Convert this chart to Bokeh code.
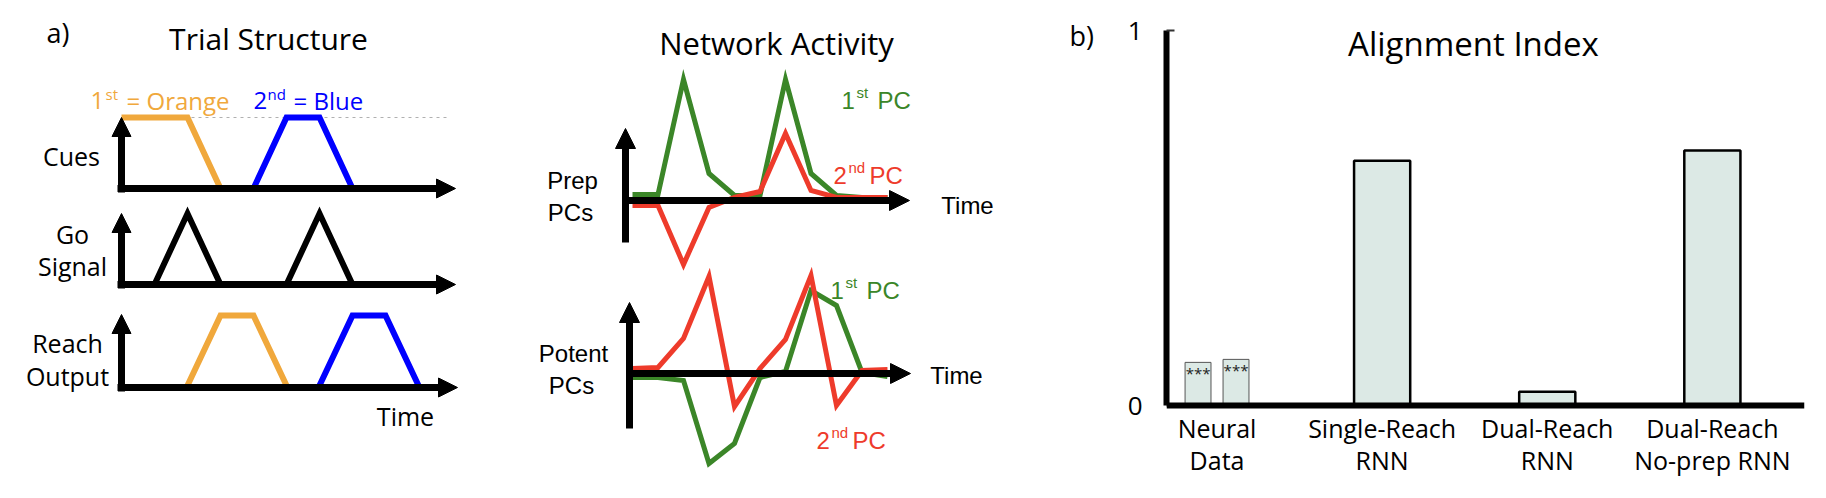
from bokeh.plotting import figure
from bokeh.models import Range1d, Arrow, NormalHead, FixedTicker, Label, Span
from bokeh.layouts import row
from bokeh.core.properties import value
from bokeh.embed import file_html
from bokeh.resources import INLINE

# ---------------- data ----------------
# a) Trial structure: time in task steps, amplitude normalised to 1
cue1_t = [0, 2, 3]
cue1_v = [1, 1, 0]
cue2_t = [4, 5, 6, 7]
cue2_v = [0, 1, 1, 0]
go1_t = [1, 2, 3]
go1_v = [0, 1, 0]
go2_t = [5, 6, 7]
go2_v = [0, 1, 0]
reach1_t = [2, 3, 4, 5]
reach1_v = [0, 1, 1, 0]
reach2_t = [6, 7, 8, 9]
reach2_v = [0, 1, 1, 0]

# a) Network activity (arbitrary units)
pc_time = [0, 1, 2, 3, 4, 5, 6, 7, 8, 9, 10]
prep_pc1 = [0.06, 0.06, 1.21, 0.27, 0.05, 0.05, 1.21, 0.27, 0.05, 0.03, 0.03]
prep_pc2 = [-0.05, -0.05, -0.64, -0.07, 0.03, 0.09, 0.67, 0.10, 0.03, 0.03, 0.03]
potent_pc1 = [-0.04, -0.04, -0.07, -0.90, -0.70, -0.04, 0.02, 0.83, 0.68, 0.01, -0.03]
potent_pc2 = [0.05, 0.06, 0.35, 0.97, -0.33, 0.05, 0.34, 0.98, -0.32, 0.03, 0.04]

# b) Alignment index
categories = ["Neural\nData", "Single-Reach\nRNN", "Dual-Reach\nRNN", "Dual-Reach\nNo-prep RNN"]
neural_values = [0.115, 0.123]
model_values = [0.653, 0.037, 0.68]
y_ticks = [0, 1]
y_tick_labels = ["0", "1"]

# ---------------- style ----------------
ORANGE = "#f0a83c"
BLUE = "#0000ff"
GREEN = "#3b8628"
RED = "#ee3b2b"
FILL = "#dce9e5"
FONT = "Open Sans"
FONT2 = "Liberation Sans"

H = 498
W_A = 1100
W_B = 1826 - W_A

# ---------------- panel a (page-pixel frame) ----------------
fa = figure(width=W_A, height=H, x_range=Range1d(0, W_A), y_range=Range1d(H, 0),
            output_backend="svg", toolbar_location=None, x_axis_type=None, y_axis_type=None,
            min_border=0)
fa.outline_line_color = None


def sub(x0, x1, y0, y1, t_rng, v_rng):
    return fa.subplot(x_source=Range1d(*t_rng), y_source=Range1d(*v_rng),
                      x_target=Range1d(x0, x1), y_target=Range1d(y0, y1))


def arrow(x0, y0, x1, y1, lw=7, size=19):
    fa.add_layout(Arrow(end=NormalHead(size=size, fill_color="black", line_color="black", line_width=1),
                        x_start=x0, y_start=y0, x_end=x1, y_end=y1,
                        line_width=lw, line_color="black"))


def txt(x, y, s, size=25, color="black", align="center", baseline="middle", font=FONT):
    fa.text(x=[x], y=[y], text=[s], text_font=value(font), text_font_size=f"{size}px",
            text_color=color, text_align=align, text_baseline=baseline)


T_RANGE = (0, 10)
V_RANGE = (0, 1)

# Cues
cues = sub(121, 451, 188, 117, T_RANGE, V_RANGE)
ref_top = max(cue1_v)
cues.line([T_RANGE[0], T_RANGE[1] * 0.99], [ref_top, ref_top], line_color="#b0b0b0",
          line_width=1.2, line_dash="3 4")
cues.line(cue1_t, cue1_v, line_color=ORANGE, line_width=6, line_join="miter")
cues.line(cue2_t, cue2_v, line_color=BLUE, line_width=6, line_join="miter")
arrow(121, 192, 121, 117)
arrow(117, 188, 455, 188)

# Go signal
go = sub(121, 451, 284, 213, T_RANGE, V_RANGE)
go.line(go1_t, go1_v, line_color="black", line_width=6, line_join="miter")
go.line(go2_t, go2_v, line_color="black", line_width=6, line_join="miter")
arrow(121, 288, 121, 213)
arrow(117, 284, 455, 284)

# Reach output
reach = sub(121, 451, 385, 315, T_RANGE, V_RANGE)
reach.line(reach1_t, reach1_v, line_color=ORANGE, line_width=6, line_join="miter")
reach.line(reach2_t, reach2_v, line_color=BLUE, line_width=6, line_join="miter")
arrow(121, 391, 121, 314)
arrow(117, 387, 457, 387)

# Prep PCs
prep = sub(632, 887, 200, 100, (0, 10), (0, 1))
prep.line(pc_time, prep_pc1, line_color=GREEN, line_width=5, line_join="miter")
prep.line(pc_time, prep_pc2, line_color=RED, line_width=5, line_join="miter")
arrow(625, 242, 625, 128, lw=7, size=20)
arrow(622, 200, 909, 200, lw=7, size=20)

# Potent PCs
potent = sub(632, 887, 373, 273, (0, 10), (0, 1))
potent.line(pc_time, potent_pc1, line_color=GREEN, line_width=5, line_join="miter")
potent.line(pc_time, potent_pc2, line_color=RED, line_width=5, line_join="miter")
arrow(629, 428, 629, 302, lw=7, size=20)
arrow(626, 373, 910, 373, lw=7, size=20)

# texts, panel a
txt(46, 32, "a)", size=27, align="left")
txt(268, 38, "Trial Structure", size=30)
txt(90, 100, "1", size=24, color=ORANGE, align="left", baseline="alphabetic")
txt(105, 93, "st", size=15, color=ORANGE, align="left", baseline="alphabetic")
txt(126, 100, "= Orange", size=24, color=ORANGE, align="left", baseline="alphabetic")
txt(253, 100, "2", size=24, color=BLUE, align="left", baseline="alphabetic")
txt(267, 93, "nd", size=15, color=BLUE, align="left", baseline="alphabetic")
txt(293, 100, "= Blue", size=24, color=BLUE, align="left", baseline="alphabetic")
txt(71, 155, "Cues")
txt(72, 233, "Go")
txt(72, 265, "Signal")
txt(67, 342, "Reach")
txt(67, 375, "Output")
txt(405, 415, "Time")

txt(776, 42, "Network Activity", size=31)
txt(572, 180, "Prep", size=24, font=FONT2)
txt(570, 212, "PCs", size=24, font=FONT2)
txt(967, 205, "Time", size=24, font=FONT2)
txt(573, 353, "Potent", size=24, font=FONT2)
txt(571, 385, "PCs", size=24, font=FONT2)
txt(956, 375, "Time", size=24, font=FONT2)


def pc_label(x, y, num, sup, color):
    txt(x, y, num, size=24, color=color, align="left", baseline="alphabetic", font=FONT2)
    txt(x + 15, y - 8, sup, size=15, color=color, align="left", baseline="alphabetic", font=FONT2)
    txt(x + 36, y, "PC", size=24, color=color, align="left", baseline="alphabetic", font=FONT2)


pc_label(841, 100, "1", "st", GREEN)
pc_label(833, 175, "2", "nd", RED)
pc_label(830, 290, "1", "st", GREEN)
pc_label(816, 440, "2", "nd", RED)

txt(1069, 35, "b)", size=27, align="left")

# ---------------- panel b ----------------
# frame spans full height; value 0 sits at page y=405, value 1 at page y=30
fb = figure(width=W_B, height=H, x_range=Range1d(-0.306, 3.558), y_range=Range1d(-0.248, 1.08),
            output_backend="svg", toolbar_location=None, x_axis_type=None,
            min_border_left=66, min_border_right=22, min_border_top=0, min_border_bottom=0)
fb.outline_line_color = None
fb.grid.visible = False

fb.yaxis.ticker = FixedTicker(ticks=y_ticks)
fb.yaxis.bounds = (min(y_ticks), max(y_ticks))
fb.yaxis.major_label_overrides = {t: l for t, l in zip(y_ticks, y_tick_labels)}
fb.yaxis.axis_line_width = 6
fb.yaxis.axis_line_color = "black"
fb.yaxis.major_tick_in = 8
fb.yaxis.major_tick_out = 0
fb.yaxis.major_tick_line_width = 2
fb.yaxis.major_tick_line_color = "#333333"
fb.yaxis.minor_tick_line_color = None
fb.yaxis.major_label_text_font = FONT
fb.yaxis.major_label_text_font_size = "26px"
fb.yaxis.major_label_text_color = "black"
fb.yaxis.major_label_standoff = 24

cat_pos = list(range(len(categories)))
neural_x = [cat_pos[0] - 0.115, cat_pos[0] + 0.115]
fb.vbar(x=neural_x, top=neural_values, bottom=0, width=0.157, fill_color=FILL,
        line_color="#555555", line_width=1)
fb.vbar(x=cat_pos[1:], top=model_values, bottom=0, width=0.34, fill_color=FILL,
        line_color="black", line_width=2.5)
fb.text(x=neural_x, y=neural_values, text=["***"] * len(neural_values), text_font=value(FONT),
        text_font_size="15px", text_align="center", text_baseline="top", y_offset=1,
        text_color="#222222")

# baseline (x axis line)
fb.add_layout(Span(location=0, dimension="width", line_color="black", line_width=6))

# category labels under the baseline
line1 = [c.split("\n")[0] for c in categories]
line2 = [c.split("\n")[1] for c in categories]
fb.text(x=cat_pos, y=[0] * len(cat_pos), text=line1, text_font=value(FONT), text_font_size="25px",
        text_align="center", text_baseline="middle", y_offset=22, text_color="black")
fb.text(x=cat_pos, y=[0] * len(cat_pos), text=line2, text_font=value(FONT), text_font_size="25px",
        text_align="center", text_baseline="middle", y_offset=54, text_color="black")

fb.add_layout(Label(x=1.553, y=0.965, text="Alignment Index", text_align="center",
                    text_baseline="middle", text_font=FONT, text_font_size="33px",
                    text_color="black"))

layout = row(fa, fb)
open("out.html", "w").write(file_html(layout, INLINE))
